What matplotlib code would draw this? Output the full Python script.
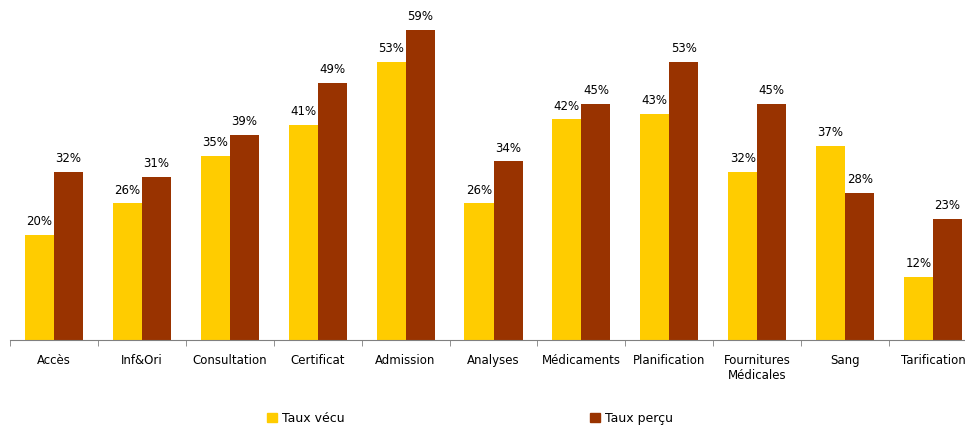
import numpy as np
import matplotlib.pyplot as plt
from matplotlib.patches import Patch

categories = ["Accès", "Inf&Ori", "Consultation", "Certificat", "Admission", "Analyses",
              "Médicaments", "Planification", "Fournitures\nMédicales", "Sang", "Tarification"]
taux_vecu = [20, 26, 35, 41, 53, 26, 42, 43, 32, 37, 12]
taux_percu = [32, 31, 39, 49, 59, 34, 45, 53, 45, 28, 23]

jaune = "#FFCC00"
brun = "#993300"

fig = plt.figure(figsize=(9.65, 4.26), dpi=100)
# axes runs a bit past the right edge, like in the original
ax = fig.add_axes([10 / 965, 86 / 426, 967 / 965, 340 / 426])

x = np.arange(len(categories))
w = 0.33
ax.bar(x - w / 2, taux_vecu, w, color=jaune)
ax.bar(x + w / 2, taux_percu, w, color=brun)

for i in range(len(categories)):
    ax.text(x[i] - w / 2, taux_vecu[i] + 1.3, f"{taux_vecu[i]}%", ha="center", va="bottom", fontsize=8.5)
    ax.text(x[i] + w / 2, taux_percu[i] + 1.3, f"{taux_percu[i]}%", ha="center", va="bottom", fontsize=8.5)

ax.set_xlim(-0.5, len(categories) - 0.5)
ax.set_ylim(0, 340 / 5.254)

ax.set_xticks(x)
ax.set_xticklabels(categories, fontsize=8.5)
ax.set_xticks(np.arange(len(categories) + 1) - 0.5, minor=True)
ax.tick_params(axis="x", which="major", length=0, pad=10)
ax.tick_params(axis="x", which="minor", length=4, color="#808080")
ax.set_yticks([])
for s in ["top", "right", "left"]:
    ax.spines[s].set_visible(False)
ax.spines["bottom"].set_color("#808080")

handles = [Patch(color=jaune, label="Taux vécu"), Patch(color=brun, label="Taux perçu")]
fig.legend(handles=handles, loc="center", bbox_to_anchor=(0.487, 0.018), ncol=2, frameon=False,
           fontsize=9, handlelength=0.8, handleheight=0.8, handletextpad=0.4, columnspacing=19.7)

plt.savefig("out.png")
